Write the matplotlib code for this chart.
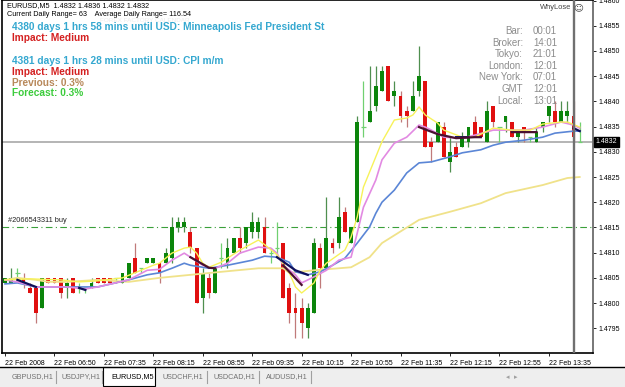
import matplotlib
matplotlib.use('Agg')
import matplotlib.pyplot as plt
from matplotlib import font_manager
from matplotlib.patches import Rectangle
import numpy as np

W, H = 625, 387

# EURUSD M5 bars, in pips above 1.4800 (4 digit quotes)
base = 1.4800
open_pips = [4, 4, 6, 5, 3, 3, -1, 5, 5, 5, 3, 5, 3, 3, 3, 5, 5, 5, 5, 4,
             5, 9, 7, 8, 8, 8, 8, 9, 15, 15, 14, 11, 1, 5, 2, 9, 8, 10, 13, 12,
             14, 14, 15, 10, 11, 12, 3, -1, -1, -5, -2, 11, 7, 12, 12, 18, 12, 16, 35, 36,
             39, 42, 47, 41, 41, 38, 38, 42, 44, 32, 32, 35, 28, 31, 31, 32, 36, 35, 32, 39,
             35, 36, 36, 33, 35, 33, 32, 35, 37, 38, 36, 37, 37, 32]
high_pips = [5, 7, 7, 6, 4, 3, 5, 5, 5, 5, 5, 5, 4, 3, 5, 5, 5, 5, 5, 6,
             8, 12, 7, 9, 9, 8, 11, 17, 17, 17, 15, 11, 7, 6, 7, 12, 13, 13, 15, 15,
             18, 17, 17, 11, 16, 12, 4, 2, 1, 0, 13, 12, 21, 13, 21, 19, 15, 37, 44, 47,
             47, 47, 47, 44, 42, 39, 44, 51, 44, 33, 36, 36, 33, 32, 34, 35, 37, 35, 40, 39,
             35, 37, 36, 34, 35, 33, 35, 36, 39, 40, 40, 40, 40, 36]
low_pips = [4, 4, 5, 3, 2, -4, -1, 4, 4, 1, 1, 2, 2, 2, 3, 4, 4, 4, 4, 4,
            5, 6, 6, 8, 8, 4, 8, 8, 14, 14, 10, 0, -2, 1, 2, 7, 7, 10, 10, 11,
            13, 13, 10, 8, 9, 1, -4, -7, -7, -7, -2, 3, 7, 10, 11, 14, 12, 16, 33, 36,
            38, 42, 40, 39, 36, 35, 38, 41, 31, 28, 32, 29, 26, 29, 31, 31, 33, 33, 32, 35,
            32, 34, 33, 32, 32, 32, 32, 34, 36, 35, 36, 36, 32, 32]
close_pips = [5, 5, 6, 4, 2, -2, 5, 4, 4, 2, 4, 2, 3, 3, 4, 4, 4, 4, 5, 6,
              8, 6, 7, 9, 9, 6, 10, 15, 16, 16, 11, 0, 6, 2, 7, 9, 11, 13, 11, 15,
              16, 16, 10, 10, 11, 1, -2, -2, -4, -1, 12, 7, 13, 11, 17, 14, 15, 36, 35, 38,
              43, 46, 40, 42, 37, 37, 41, 45, 31, 31, 36, 29, 30, 29, 33, 35, 33, 33, 38, 36,
              35, 37, 33, 34, 34, 33, 34, 36, 39, 36, 38, 38, 33, 32]

# moving averages (bar index, pips above 1.4800)
fast_bar = [0, 4, 9, 12, 15, 19, 21, 24, 25, 27, 29, 30, 31, 32, 33, 35, 38, 41, 42, 44,
            46, 47, 48, 50, 51, 52, 55, 56, 57, 58, 60, 61, 63, 65, 66, 67, 68, 70, 71, 74,
            76, 79, 82, 85, 87, 90, 91, 93]
fast_pips = [4.6, 4.8, 4.6, 4.2, 4.4, 5.0, 6.0, 7.5, 7.9, 9.9, 10.9, 11.1, 9.9, 7.9, 7.1, 8.1,
             10.5, 12.5, 11.6, 9.6, 6.0, 3.2, 2.0, 4.0, 6.5, 7.9, 10.5, 13.1, 17.1, 23.0, 29.0,
             32.0, 36.3, 36.7, 37.3, 38.9, 37.3, 35.7, 34.3, 32.9, 32.9, 34.7, 34.3, 34.3, 35.5,
             35.9, 35.9, 34.9]
mid_bar = [0, 2, 5, 10, 13, 15, 20, 23, 25, 27, 29, 30, 32, 34, 36, 38, 41, 43, 44, 45,
           47, 48, 50, 52, 54, 56, 57, 58, 60, 61, 63, 65, 67, 68, 69, 71, 74, 76, 79, 84,
           87, 90, 92, 93]
mid_pips = [4.6, 4.2, 3.2, 3.2, 2.8, 3.2, 4.6, 6.5, 6.7, 8.5, 9.9, 9.1, 7.5, 6.9, 7.9, 9.9,
            11.1, 10.9, 9.9, 7.5, 5.6, 4.0, 5.2, 6.5, 8.5, 9.1, 13.9, 19.0, 24.4, 28.4, 31.7,
            32.9, 35.3, 34.9, 34.3, 32.9, 32.7, 33.3, 34.3, 34.3, 34.9, 35.9, 35.3, 34.7]
blue_bar = [0, 2, 5, 10, 15, 20, 23, 25, 27, 29, 30, 33, 36, 40, 42, 44, 46, 47, 49, 51,
            53, 55, 57, 59, 60, 61, 63, 65, 67, 69, 72, 74, 77, 79, 81, 84, 87, 89, 92, 93]
blue_pips = [3.8, 4.0, 3.2, 3.2, 3.2, 4.6, 5.6, 6.0, 6.9, 7.9, 7.5, 6.9, 7.5, 8.5, 9.3, 9.1,
             8.1, 6.2, 5.6, 6.2, 7.5, 8.9, 11.9, 15.1, 17.8, 20.0, 22.4, 25.8, 27.8, 28.0,
             29.0, 29.8, 30.4, 31.3, 31.9, 32.3, 32.9, 33.7, 34.1, 34.1]
slow_bar = [0, 2, 5, 7, 10, 15, 20, 25, 30, 35, 41, 45, 46, 50, 56, 59, 61, 67, 72, 77,
            81, 87, 91, 93]
slow_pips = [4.6, 5.0, 4.6, 4.2, 4.2, 4.6, 4.2, 5.0, 5.6, 6.2, 6.9, 6.9, 6.0, 6.5, 7.1, 9.1,
             11.9, 16.5, 18.1, 19.8, 21.8, 23.4, 24.8, 25.0]

# dark overlay pieces (None = gap)
navy_bar = [2, 5, None, 12, 13, None, 44, 47, 49, None, 73, 75, None, 92, 93]
navy_pips = [4.6, 3.2, None, 3.0, 2.6, None, 9.1, 6.5, 5.6, None, 32.9, 32.9, None, 34.7, 34.1]
maroon_bar = [30, 33, 34, None, 45, 48, None, 67, 70, 73, 76, 77, None, 82, 86]
maroon_pips = [9.1, 7.0, 6.9, None, 7.5, 3.6, None, 34.9, 33.5, 32.7, 32.9, 32.9, None, 33.9, 33.9]

time_labels = ['22 Feb 2008', '22 Feb 06:50', '22 Feb 07:35', '22 Feb 08:15', '22 Feb 08:55',
               '22 Feb 09:35', '22 Feb 10:15', '22 Feb 10:55', '22 Feb 11:35', '22 Feb 12:15',
               '22 Feb 12:55', '22 Feb 13:35']
clock_names = ['Bar:', 'Broker:', 'Tokyo:', 'London:', 'New York:', 'GMT', 'Local:']
clock_times = ['00:01', '14:01', '21:01', '12:01', '07:01', '12:01', '13:01']
tabs = ['GBPUSD,H1', 'USDJPY,H1', 'EURUSD,M5', 'USDCHF,H1', 'USDCAD,H1', 'AUDUSD,H1']


def price(p):
    return base + np.array(p, dtype=float) / 10000.0


names = {f.name for f in font_manager.fontManager.ttflist}
narrow = 'Liberation Sans Narrow' if 'Liberation Sans Narrow' in names else 'Liberation Sans'
plt.rcParams['font.family'] = ['Liberation Sans', 'DejaVu Sans']


def fx(px):
    return px / W


def fy(py):
    return 1 - py / H


fig = plt.figure(figsize=(W / 100, H / 100), dpi=100)
fig.patch.set_facecolor('white')

# tab strip
fig.patches.append(Rectangle((0, 0), 1, fy(367), transform=fig.transFigure,
                             facecolor='#eeeeee', edgecolor='none', zorder=0))
ax = fig.add_axes([fx(2), fy(353), fx(593) - fx(2), 353 / H])
ax.set_facecolor('white')

o, h, l, c = price(open_pips), price(high_pips), price(low_pips), price(close_pips)
x = np.arange(len(o))
up, dn, dj = c > o, c < o, c == o

ax.vlines(x[up], l[up], h[up], color='#4f8f4f', lw=0.9, zorder=3)
ax.vlines(x[dn], l[dn], h[dn], color='#c07a7a', lw=0.9, zorder=3)
ax.vlines(x[dj], l[dj], h[dj], color='#70d070', lw=0.9, zorder=3)
ax.hlines(o[dj], x[dj] - 0.35, x[dj] + 0.35, color='#70d070', lw=0.9, zorder=3)
ax.bar(x[up], c[up] - o[up], bottom=o[up], width=0.62, color='#0b850b', lw=0, zorder=4)
ax.bar(x[dn], o[dn] - c[dn], bottom=c[dn], width=0.62, color='#e01010', lw=0, zorder=4)

ax.plot(slow_bar, price(slow_pips), color='#f0e28a', lw=1.3, zorder=5)
ax.plot(blue_bar, price(blue_pips), color='#5b86d6', lw=1.2, zorder=5)
ax.plot(mid_bar, price(mid_pips), color='#e28ae2', lw=1.2, zorder=5)
ax.plot(fast_bar, price(fast_pips), color='#f7f25a', lw=1.0, zorder=5)


def gaps(a):
    return np.array([np.nan if v is None else v for v in a], dtype=float)


ax.plot(gaps(navy_bar), base + gaps(navy_pips) / 1e4, color='#10105a', lw=1.6, zorder=6)
ax.plot(gaps(maroon_bar), base + gaps(maroon_pips) / 1e4, color='#4a1030', lw=1.6, zorder=6)

# bid line, order line, vertical line
ax.axhline(1.4832, color='#b4b4b4', lw=1.4, zorder=2)
ax.axhline(1.4815, color='#3aa03a', lw=0.8, ls=(0, (6, 3, 1, 3)), zorder=2)
ax.axvline(92, color='#707070', lw=1.7, zorder=7)
ax.text(0.5, 1.4815 + 0.00006, '#2066543311 buy', fontsize=5.3, color='#222222',
        va='bottom', ha='left')

ax.set_xlim(-0.49, 95.15)
ax.set_ylim(1.47901, 1.48601)

ax.yaxis.tick_right()
yt = np.arange(1.4795, 1.48605, 0.0005)
ax.set_yticks(yt)
ax.set_yticklabels(['%.4f' % v for v in yt], fontsize=5.0, family=narrow)
ax.tick_params(axis='y', length=2.5, width=0.6, pad=1.5, direction='out')
ax.set_xticks(np.arange(0, 89, 8))
ax.set_xticklabels(time_labels, fontsize=5.0, family=narrow, ha='left')
ax.tick_params(axis='x', length=2.5, width=0.6, pad=2.5, direction='out')

for s in ['left', 'bottom']:
    ax.spines[s].set_color('black')
    ax.spines[s].set_linewidth(1.2)
ax.spines['right'].set_color('#777777')
ax.spines['right'].set_linewidth(1.4)
ax.spines['top'].set_color('black')
ax.spines['top'].set_linewidth(1.2)

# current price marker
ax.annotate('1.4832', xy=(1, 1.4832), xycoords=('axes fraction', 'data'),
            xytext=(2, 0), textcoords='offset points', va='center', ha='left',
            fontsize=5.0, family=narrow, color='white',
            bbox=dict(boxstyle='square,pad=0.2', fc='black', ec='black'))

# header texts
fig.text(fx(7), fy(6), 'EURUSD,M5  1.4832 1.4836 1.4832 1.4832', fontsize=5.2, va='center')
fig.text(fx(7), fy(14.5), 'Current Daily Range= 63    Average Daily Range= 116.54',
         fontsize=5.2, va='center')
fig.text(fx(100), fy(20), 'FOREX FACTORY CALENDAR', fontsize=4.6, va='center', color='#ececec')
blue, red = '#35a8d0', '#d42020'
bold = dict(fontsize=7.3, fontweight='bold', va='center')
fig.text(fx(12), fy(27), '4380 days 1 hrs 58 mins until USD: Minneapolis Fed President St',
         color=blue, **bold)
fig.text(fx(12), fy(38), 'Impact: Medium', color=red, **bold)
fig.text(fx(12), fy(61), '4381 days 1 hrs 28 mins until USD: CPI m/m', color=blue, **bold)
fig.text(fx(12), fy(72), 'Impact: Medium', color=red, **bold)
fig.text(fx(12), fy(82.5), 'Previous: 0.3%', color='#b8885a', **bold)
fig.text(fx(12), fy(93.5), 'Forecast: 0.3%', color='#3ccc3c', **bold)

# clock panel
for k, (nm, tm) in enumerate(zip(clock_names, clock_times)):
    yy = 31 + k * 11.6
    fig.text(fx(523), fy(yy), nm, fontsize=7.0, color='#8c8c8c', ha='right', va='center')
    fig.text(fx(533), fy(yy), tm, fontsize=7.0, color='#8c8c8c', ha='left', va='center')
fig.text(fx(571), fy(7.5), 'WhyLose', fontsize=5.4, color='#444444', va='center', ha='right')
fig.text(fx(573), fy(7.5), '\u263a', fontsize=6.8, color='#444444', va='center',
         family=['DejaVu Sans'])

# tabs
fig.lines.append(plt.Line2D([0, 1], [fy(367), fy(367)], transform=fig.transFigure,
                            color='black', lw=1.0))
tab_x = [12, 62, 111, 163, 214, 266]
sep_x = [56, 102, 207, 259, 311]
fig.patches.append(Rectangle((fx(103), fy(386)), fx(155) - fx(103), fy(367) - fy(386),
                             transform=fig.transFigure, facecolor='white',
                             edgecolor='black', lw=0.8, zorder=1))
for k, t in enumerate(tabs):
    col = 'black' if k == 2 else '#707070'
    fig.text(fx(tab_x[k]), fy(377), t, fontsize=5.2, color=col, va='center', zorder=3,
             family=narrow)
for sx in sep_x:
    fig.lines.append(plt.Line2D([fx(sx), fx(sx)], [fy(371), fy(383)],
                                transform=fig.transFigure, color='#a0a0a0', lw=0.8))
fig.text(fx(506), fy(377), '\u25c2  \u25b8', fontsize=5, color='#a0a0a0', va='center',
         family=['DejaVu Sans'])

fig.savefig('out.png', dpi=100)
